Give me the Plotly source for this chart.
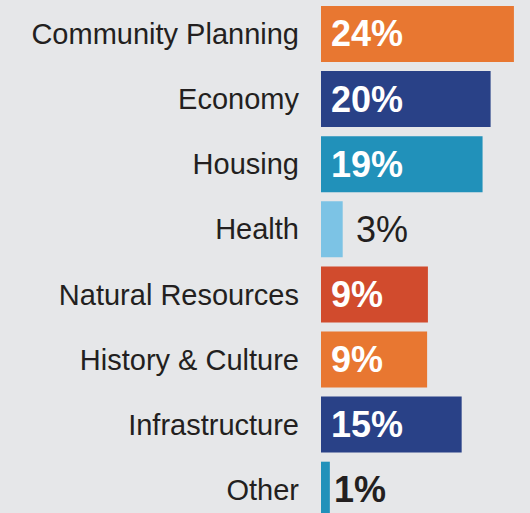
import plotly.graph_objects as go

# categories, top to bottom
categories = ['Community Planning', 'Economy', 'Housing', 'Health',
              'Natural Resources', 'History & Culture', 'Infrastructure', 'Other']
# printed percentages
shares = [24, 20, 19, 3, 9, 9, 15, 1]
# bar lengths as drawn in the picture (not exactly proportional to the labels)
bar_lengths = [24.0, 21.1, 20.1, 2.7, 13.3, 13.2, 17.5, 1.1]
bar_colors = ['#E87731', '#294187', '#2191BA', '#7CC3E5',
              '#D14B2D', '#E87731', '#294187', '#2191BA']

FONT = 'Liberation Sans, Arial, sans-serif'
DARK = '#231F20'
BG = '#E6E7E9'

fig = go.Figure(go.Bar(
    x=bar_lengths,
    y=categories,
    orientation='h',
    marker=dict(color=bar_colors, line=dict(width=0)),
    hoverinfo='skip',
))

# labels: white bold inside the wide bars, dark outside the thin ones
annotations = []
for cat, share, length in zip(categories, shares, bar_lengths):
    if length > 5:
        annotations.append(dict(x=0, y=cat, text=f'<b>{share}%</b>', xanchor='left', xshift=8,
                                showarrow=False, font=dict(family=FONT, size=36, color='white')))
    else:
        bold = share < 2
        annotations.append(dict(x=length, y=cat, text=f'<b>{share}%</b>' if bold else f'{share}%',
                                xanchor='left', xshift=2 if bold else 11, showarrow=False,
                                font=dict(family=FONT, size=36, color=DARK)))

fig.update_layout(
    width=530, height=513,
    margin=dict(l=321, r=0, t=0, b=0),
    paper_bgcolor=BG,
    plot_bgcolor=BG,
    bargap=0.14,
    showlegend=False,
    hovermode=False,
    annotations=annotations,
    xaxis=dict(range=[0, 26.0], visible=False, fixedrange=True),
    yaxis=dict(range=[7.358, -0.522], showgrid=False, zeroline=False, ticks='',
               ticklabelstandoff=21, showline=False,
               tickfont=dict(family=FONT, size=29, color=DARK), fixedrange=True),
)

# drop the default page margin so the figure sits at the window's corner
fig.write_html('out.html', config={'displayModeBar': False},
               post_script="document.body.style.margin='0px';"
                           f"document.body.style.background='{BG}';")
